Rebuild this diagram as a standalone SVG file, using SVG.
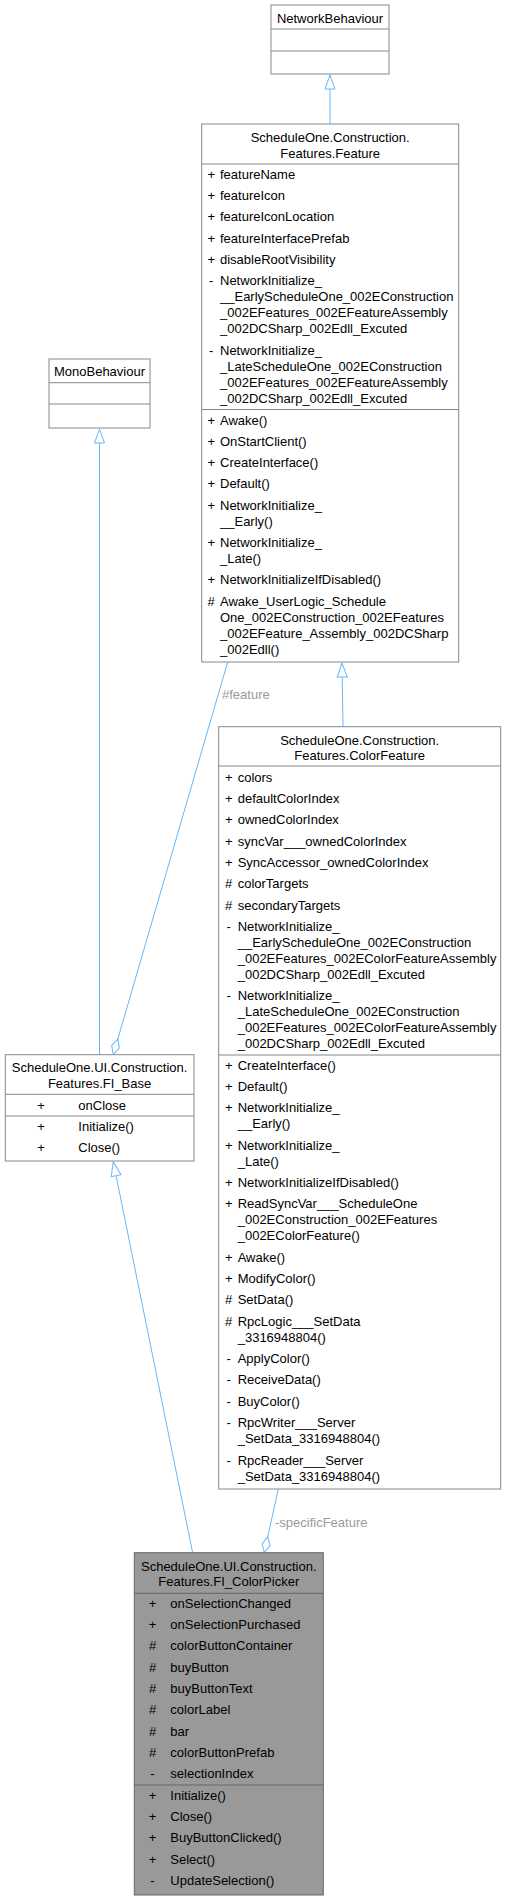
<svg xmlns="http://www.w3.org/2000/svg" width="506" height="1900" viewBox="0 0 506 1900">
<style>
text{font-family:"Liberation Sans",Arial,sans-serif;font-size:13px;fill:#000}
.box{fill:#fff;stroke:#888;stroke-width:1}
.hl{fill:#999;stroke:#666;stroke-width:1}
.div{stroke:#888;stroke-width:1}
.divh{stroke:#666;stroke-width:1}
.t{text-anchor:middle}
.p{text-anchor:middle}
.edge{fill:none;stroke:#63b8ff;stroke-width:1}
.lbl{fill:#9a9a9a}
</style>
<defs>
<marker id="tri" viewBox="-1 -1 16 12" refX="14" refY="5" markerWidth="16" markerHeight="12" markerUnits="userSpaceOnUse" orient="auto">
<path d="M0,0 L14,5 L0,10 Z" fill="#fff" stroke="#63b8ff" stroke-width="1"/>
</marker>
<marker id="dia" viewBox="-1 -1 18 10" refX="16" refY="4" markerWidth="18" markerHeight="10" markerUnits="userSpaceOnUse" orient="auto">
<path d="M0,4 L8,0 L16,4 L8,8 Z" fill="#fff" stroke="#63b8ff" stroke-width="1"/>
</marker>
</defs>

<g id="connectors">
<path class="edge" d="M330,124 L330,75" marker-end="url(#tri)"/>
<path class="edge" d="M343,727 L342,663" marker-end="url(#tri)"/>
<path class="edge" d="M99.5,1055 L99.5,429" marker-end="url(#tri)"/>
<path class="edge" d="M192.7,1553 L113.3,1162" marker-end="url(#tri)"/>
<path class="edge" d="M227.7,662 L113.3,1054.5" marker-end="url(#dia)"/>
<text class="lbl" x="222" y="698.5">#feature</text>
<path class="edge" d="M278.3,1489 L264.3,1552.5" marker-end="url(#dia)"/>
<text class="lbl" x="275" y="1527">-specificFeature</text>
</g>

<g id="NetworkBehaviour">
<rect class="box" x="271" y="5" width="118" height="69"/>
<line class="div" x1="271" y1="29" x2="389" y2="29"/>
<line class="div" x1="271" y1="51" x2="389" y2="51"/>
<text class="t" x="330" y="23">NetworkBehaviour</text>
</g>

<g id="MonoBehaviour">
<rect class="box" x="49" y="359" width="101" height="69"/>
<line class="div" x1="49" y1="382.7" x2="150" y2="382.7"/>
<line class="div" x1="49" y1="404" x2="150" y2="404"/>
<text class="t" x="99.5" y="376">MonoBehaviour</text>
</g>

<g id="Feature">
<rect class="box" x="201.7" y="124" width="257" height="538"/>
<line class="div" x1="201.7" y1="164" x2="458.7" y2="164"/>
<line class="div" x1="201.7" y1="409.5" x2="458.7" y2="409.5"/>
<text class="t" x="330.2" y="142.3">ScheduleOne.Construction.</text>
<text class="t" x="330.2" y="158">Features.Feature</text>
<g>
<text class="p" x="211.2" y="178.8">+</text><text x="220" y="178.8">featureName</text>
<text class="p" x="211.2" y="200.1">+</text><text x="220" y="200.1">featureIcon</text>
<text class="p" x="211.2" y="221.4">+</text><text x="220" y="221.4">featureIconLocation</text>
<text class="p" x="211.2" y="242.7">+</text><text x="220" y="242.7">featureInterfacePrefab</text>
<text class="p" x="211.2" y="264">+</text><text x="220" y="264">disableRootVisibility</text>
<text class="p" x="211.2" y="285.3">-</text><text x="220" y="285.3">NetworkInitialize_<tspan x="220" dy="16">__EarlyScheduleOne_002EConstruction</tspan><tspan x="220" dy="16">_002EFeatures_002EFeatureAssembly</tspan><tspan x="220" dy="16">_002DCSharp_002Edll_Excuted</tspan></text>
<text class="p" x="211.2" y="354.6">-</text><text x="220" y="354.6">NetworkInitialize_<tspan x="220" dy="16">_LateScheduleOne_002EConstruction</tspan><tspan x="220" dy="16">_002EFeatures_002EFeatureAssembly</tspan><tspan x="220" dy="16">_002DCSharp_002Edll_Excuted</tspan></text>
</g>
<g>
<text class="p" x="211.2" y="424.5">+</text><text x="220" y="424.5">Awake()</text>
<text class="p" x="211.2" y="445.8">+</text><text x="220" y="445.8">OnStartClient()</text>
<text class="p" x="211.2" y="467.1">+</text><text x="220" y="467.1">CreateInterface()</text>
<text class="p" x="211.2" y="488.4">+</text><text x="220" y="488.4">Default()</text>
<text class="p" x="211.2" y="509.7">+</text><text x="220" y="509.7">NetworkInitialize_<tspan x="220" dy="16">__Early()</tspan></text>
<text class="p" x="211.2" y="547">+</text><text x="220" y="547">NetworkInitialize_<tspan x="220" dy="16">_Late()</tspan></text>
<text class="p" x="211.2" y="584.3">+</text><text x="220" y="584.3">NetworkInitializeIfDisabled()</text>
<text class="p" x="211.2" y="605.6">#</text><text x="220" y="605.6">Awake_UserLogic_Schedule<tspan x="220" dy="16">One_002EConstruction_002EFeatures</tspan><tspan x="220" dy="16">_002EFeature_Assembly_002DCSharp</tspan><tspan x="220" dy="16">_002Edll()</tspan></text>
</g>
</g>

<g id="ColorFeature">
<rect class="box" x="218.7" y="726.7" width="282" height="762.3"/>
<line class="div" x1="218.7" y1="766" x2="500.7" y2="766"/>
<line class="div" x1="218.7" y1="1055" x2="500.7" y2="1055"/>
<text class="t" x="359.7" y="744.5">ScheduleOne.Construction.</text>
<text class="t" x="359.7" y="760">Features.ColorFeature</text>
<g>
<text class="p" x="228.7" y="781.8">+</text><text x="237.7" y="781.8">colors</text>
<text class="p" x="228.7" y="803.1">+</text><text x="237.7" y="803.1">defaultColorIndex</text>
<text class="p" x="228.7" y="824.4">+</text><text x="237.7" y="824.4">ownedColorIndex</text>
<text class="p" x="228.7" y="845.7">+</text><text x="237.7" y="845.7">syncVar___ownedColorIndex</text>
<text class="p" x="228.7" y="867">+</text><text x="237.7" y="867">SyncAccessor_ownedColorIndex</text>
<text class="p" x="228.7" y="888.3">#</text><text x="237.7" y="888.3">colorTargets</text>
<text class="p" x="228.7" y="909.6">#</text><text x="237.7" y="909.6">secondaryTargets</text>
<text class="p" x="228.7" y="930.9">-</text><text x="237.7" y="930.9">NetworkInitialize_<tspan x="237.7" dy="16">__EarlyScheduleOne_002EConstruction</tspan><tspan x="237.7" dy="16">_002EFeatures_002EColorFeatureAssembly</tspan><tspan x="237.7" dy="16">_002DCSharp_002Edll_Excuted</tspan></text>
<text class="p" x="228.7" y="1000.2">-</text><text x="237.7" y="1000.2">NetworkInitialize_<tspan x="237.7" dy="16">_LateScheduleOne_002EConstruction</tspan><tspan x="237.7" dy="16">_002EFeatures_002EColorFeatureAssembly</tspan><tspan x="237.7" dy="16">_002DCSharp_002Edll_Excuted</tspan></text>
</g>
<g>
<text class="p" x="228.7" y="1070.2">+</text><text x="237.7" y="1070.2">CreateInterface()</text>
<text class="p" x="228.7" y="1091">+</text><text x="237.7" y="1091">Default()</text>
<text class="p" x="228.7" y="1112.3">+</text><text x="237.7" y="1112.3">NetworkInitialize_<tspan x="237.7" dy="16">__Early()</tspan></text>
<text class="p" x="228.7" y="1149.8">+</text><text x="237.7" y="1149.8">NetworkInitialize_<tspan x="237.7" dy="16">_Late()</tspan></text>
<text class="p" x="228.7" y="1187.2">+</text><text x="237.7" y="1187.2">NetworkInitializeIfDisabled()</text>
<text class="p" x="228.7" y="1208.2">+</text><text x="237.7" y="1208.2">ReadSyncVar___ScheduleOne<tspan x="237.7" dy="16">_002EConstruction_002EFeatures</tspan><tspan x="237.7" dy="16">_002EColorFeature()</tspan></text>
<text class="p" x="228.7" y="1262.2">+</text><text x="237.7" y="1262.2">Awake()</text>
<text class="p" x="228.7" y="1283.2">+</text><text x="237.7" y="1283.2">ModifyColor()</text>
<text class="p" x="228.7" y="1304.3">#</text><text x="237.7" y="1304.3">SetData()</text>
<text class="p" x="228.7" y="1325.8">#</text><text x="237.7" y="1325.8">RpcLogic___SetData<tspan x="237.7" dy="16">_3316948804()</tspan></text>
<text class="p" x="228.7" y="1362.9">-</text><text x="237.7" y="1362.9">ApplyColor()</text>
<text class="p" x="228.7" y="1384.4">-</text><text x="237.7" y="1384.4">ReceiveData()</text>
<text class="p" x="228.7" y="1406">-</text><text x="237.7" y="1406">BuyColor()</text>
<text class="p" x="228.7" y="1427.2">-</text><text x="237.7" y="1427.2">RpcWriter___Server<tspan x="237.7" dy="16">_SetData_3316948804()</tspan></text>
<text class="p" x="228.7" y="1464.5">-</text><text x="237.7" y="1464.5">RpcReader___Server<tspan x="237.7" dy="16">_SetData_3316948804()</tspan></text>
</g>
</g>

<g id="FI_Base">
<rect class="box" x="5.3" y="1054.7" width="188.7" height="106.3"/>
<line class="div" x1="5.3" y1="1094.3" x2="194" y2="1094.3"/>
<line class="div" x1="5.3" y1="1116" x2="194" y2="1116"/>
<text class="t" x="99.6" y="1071.8">ScheduleOne.UI.Construction.</text>
<text class="t" x="99.6" y="1087.8">Features.FI_Base</text>
<text class="p" x="41" y="1109.8">+</text><text x="78.3" y="1109.8">onClose</text>
<text class="p" x="41" y="1131.2">+</text><text x="78.3" y="1131.2">Initialize()</text>
<text class="p" x="41" y="1152.2">+</text><text x="78.3" y="1152.2">Close()</text>
</g>

<g id="FI_ColorPicker">
<rect class="hl" x="134.3" y="1552.7" width="189" height="342.3"/>
<line class="divh" x1="134.3" y1="1593.3" x2="323.3" y2="1593.3"/>
<line class="divh" x1="134.3" y1="1785" x2="323.3" y2="1785"/>
<text class="t" x="228.8" y="1571">ScheduleOne.UI.Construction.</text>
<text class="t" x="228.8" y="1586.3">Features.FI_ColorPicker</text>
<text class="p" x="152.5" y="1607.8">+</text><text x="170.3" y="1607.8">onSelectionChanged</text>
<text class="p" x="152.5" y="1629.1">+</text><text x="170.3" y="1629.1">onSelectionPurchased</text>
<text class="p" x="152.5" y="1650.4">#</text><text x="170.3" y="1650.4">colorButtonContainer</text>
<text class="p" x="152.5" y="1671.7">#</text><text x="170.3" y="1671.7">buyButton</text>
<text class="p" x="152.5" y="1693">#</text><text x="170.3" y="1693">buyButtonText</text>
<text class="p" x="152.5" y="1714.3">#</text><text x="170.3" y="1714.3">colorLabel</text>
<text class="p" x="152.5" y="1735.6">#</text><text x="170.3" y="1735.6">bar</text>
<text class="p" x="152.5" y="1756.9">#</text><text x="170.3" y="1756.9">colorButtonPrefab</text>
<text class="p" x="152.5" y="1778.2">-</text><text x="170.3" y="1778.2">selectionIndex</text>
<text class="p" x="152.5" y="1799.8">+</text><text x="170.3" y="1799.8">Initialize()</text>
<text class="p" x="152.5" y="1821.1">+</text><text x="170.3" y="1821.1">Close()</text>
<text class="p" x="152.5" y="1842.4">+</text><text x="170.3" y="1842.4">BuyButtonClicked()</text>
<text class="p" x="152.5" y="1863.7">+</text><text x="170.3" y="1863.7">Select()</text>
<text class="p" x="152.5" y="1885">-</text><text x="170.3" y="1885">UpdateSelection()</text>
</g>
</svg>
